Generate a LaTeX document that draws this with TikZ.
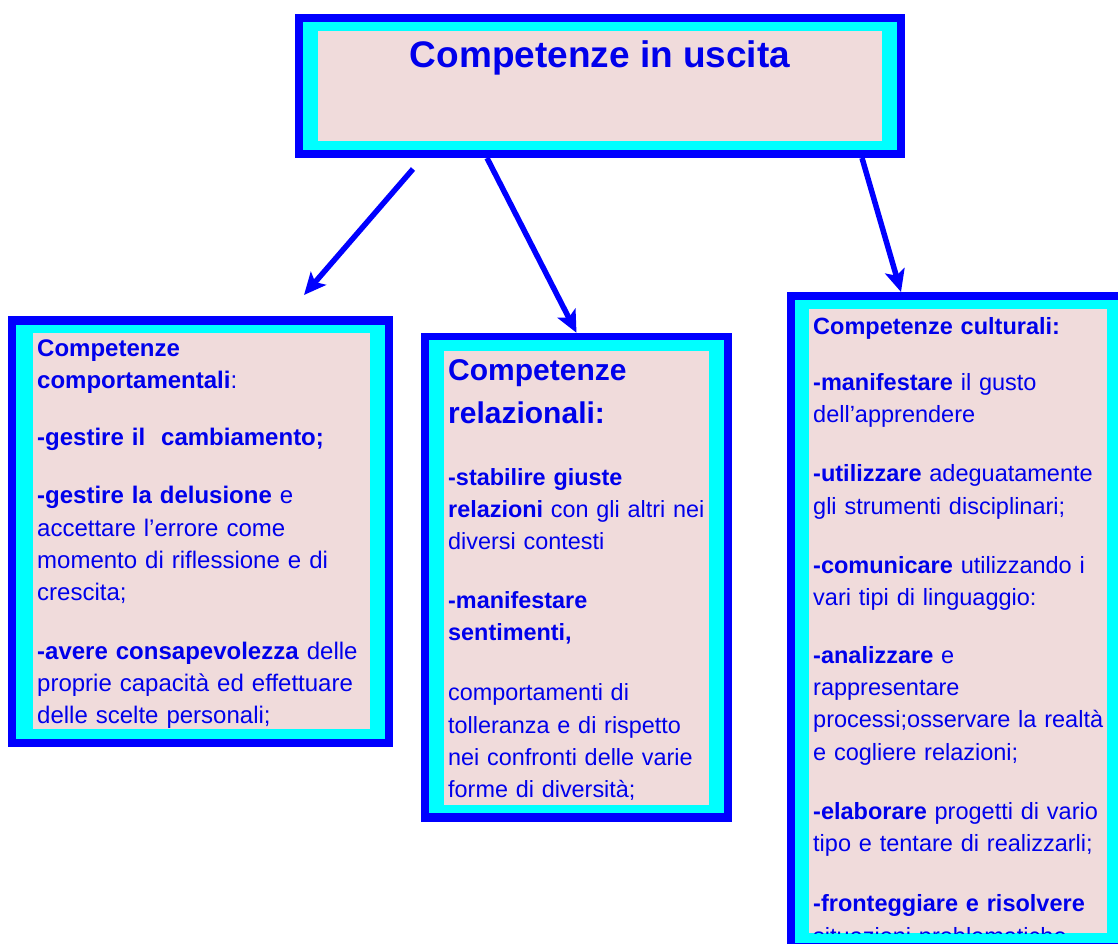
\documentclass[tikz,border=0pt]{standalone}
\usepackage{fontspec}
\setmainfont{Liberation Sans}
\usepackage{tikz}
\usetikzlibrary{arrows.meta, positioning}
\definecolor{blu}{RGB}{0,0,255}
\definecolor{ciano}{RGB}{0,255,255}
\definecolor{rosa}{RGB}{240,219,219}
\definecolor{inchiostro}{RGB}{0,0,235}
\newcommand{\corpo}{\fontsize{24}{32.3}\selectfont}

\begin{document}
\begin{tikzpicture}[
    x=1pt, y=-1pt,
    bordo/.style={rectangle, fill=blu, inner sep=0pt},
    fascia/.style={rectangle, fill=ciano, inner sep=0pt},
    fondo/.style={rectangle, fill=rosa, inner sep=0pt},
    testo/.style={anchor=base west, inner sep=0pt, align=left, text=inchiostro, font=\corpo},
    freccia/.style={-{Stealth[length=22pt, width=20pt, inset=5pt]}, line width=5.5pt, blu}
]
    \useasboundingbox (0,0) rectangle (1118,944);
    \clip (0,0) rectangle (1118,944);

    % Riquadro in alto
    \node[bordo, minimum width=610pt, minimum height=144pt] (uscita) at (600,86) {};
    \node[fascia, minimum width=594pt, minimum height=128pt] (uscita-f) at (uscita) {};
    \node[fondo, minimum width=564pt, minimum height=110pt] (uscita-r) at (uscita) {};
    \node[anchor=base, inner sep=0pt, text=inchiostro, font=\fontsize{37}{44}\selectfont\bfseries] (titolo) at (600,68) {Competenze in uscita};

    % Competenze comportamentali
    \node[bordo, minimum width=385pt, minimum height=431pt] (comport) at (200.5,531.5) {};
    \node[fascia, minimum width=369pt, minimum height=414pt] (comport-f) at (comport) {};
    \node[fondo, minimum width=337pt, minimum height=396pt] (comport-r) at (201.5,531) {};
    \node[testo, text width=345pt] (comport-t) at (37,356) {%
        \textbf{Competenze}\\
        \textbf{comportamentali}:\\[25pt]
        \textbf{-gestire il\ \ cambiamento;}\\[26pt]
        \textbf{-gestire la delusione} e\\
        accettare l’errore come\\
        momento di riflessione e di\\
        crescita;\\[26pt]
        \textbf{-avere consapevolezza} delle\\
        proprie capacità ed effettuare\\
        delle scelte personali;};

    % Competenze relazionali
    \node[bordo, minimum width=311pt, minimum height=489pt] (relaz) at (576.5,577.5) {};
    \node[fascia, minimum width=295pt, minimum height=473pt] (relaz-f) at (576.5,576.5) {};
    \node[fondo, minimum width=265pt, minimum height=454pt] (relaz-r) at (576.5,578) {};
    \node[testo, text width=300pt, font=\fontsize{23.4}{32.3}\selectfont] (relaz-t) at (448,380) {%
        {\fontsize{30}{43}\selectfont\textbf{Competenze}\\\textbf{relazionali:}\par}
        \vspace{30pt}
        \textbf{-stabilire giuste}\\
        \textbf{relazioni} con gli altri nei\\
        diversi contesti\\[26pt]
        \textbf{-manifestare}\\
        \textbf{sentimenti,}\\[28pt]
        comportamenti di\\
        tolleranza e di rispetto\\
        nei confronti delle varie\\
        forme di diversità;};

    % Competenze culturali
    \node[bordo, minimum width=342pt, minimum height=659pt] (cultur) at (958,621.5) {};
    \node[fascia, minimum width=326pt, minimum height=643pt] (cultur-f) at (cultur) {};
    \node[fondo, minimum width=298pt, minimum height=624pt] (cultur-r) at (958,621) {};
    \begin{scope}
        \clip (cultur-r.north west) rectangle (cultur-r.south east);
        \node[testo, text width=340pt, font=\fontsize{23.5}{32.3}\selectfont] (cultur-t) at (813,334) {%
            \textbf{Competenze culturali:}\\[24pt]
            \textbf{-manifestare} il gusto\\
            dell’apprendere\\[27pt]
            \textbf{-utilizzare} adeguatamente\\
            gli strumenti disciplinari;\\[27pt]
            \textbf{-comunicare} utilizzando i\\
            vari tipi di linguaggio:\\[25pt]
            \textbf{-analizzare} e\\
            rappresentare\\
            processi;osservare la realtà\\
            e cogliere relazioni;\\[27pt]
            \textbf{-elaborare} progetti di vario\\
            tipo e tentare di realizzarli;\\[28pt]
            \textbf{-fronteggiare e risolvere}\\
            situazioni problematiche};
    \end{scope}

    % Frecce
    \coordinate (p1) at (413,169);
    \coordinate (q1) at (304,295);
    \coordinate (p2) at (487,158);
    \coordinate (p3) at (862,158);
    \coordinate (q3) at (901,292);
    \draw[freccia] (p1) -- (q1);
    \draw[freccia] (p2) -- (relaz.north);
    \draw[freccia] (p3) -- (q3);
\end{tikzpicture}
\end{document}
